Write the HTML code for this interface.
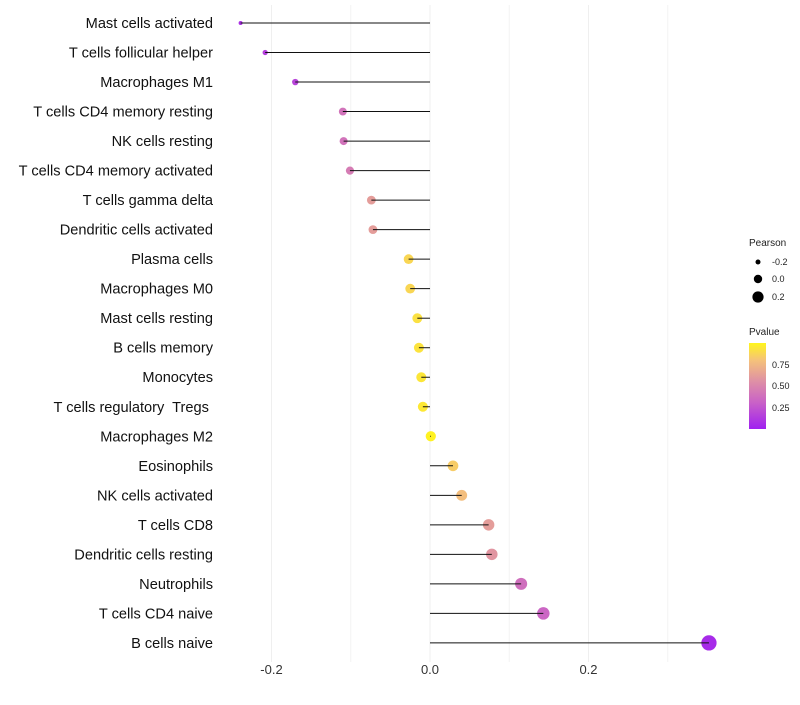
<!DOCTYPE html>
<html><head><meta charset="utf-8"><style>
body{margin:0;background:#fff;font-family:"Liberation Sans",sans-serif;}
text{white-space:pre;}
</style></head><body>
<svg id="chart" width="800" height="700" xmlns="http://www.w3.org/2000/svg">
<defs><linearGradient id="pg" x1="0" y1="1" x2="0" y2="0">
<stop offset="0" stop-color="#A020F0"/><stop offset="0.3" stop-color="#C860C8"/><stop offset="0.55" stop-color="#DE8FA6"/><stop offset="0.8" stop-color="#F5C27A"/><stop offset="1" stop-color="#FFF51C"/></linearGradient></defs>
<g id="grid"></g><g id="pts"></g><g id="marks"></g><g id="ylab"></g><g id="xlab"></g>
<g font-size="9" fill="#222">
<text x="749" y="246" font-size="10">Pearson</text>
<circle cx="758" cy="262" r="2.5" fill="#000"/>
<text x="772" y="265">-0.2</text>
<circle cx="758" cy="279" r="4.2" fill="#000"/>
<text x="772" y="282">0.0</text>
<circle cx="758" cy="297" r="5.6" fill="#000"/>
<text x="772" y="300">0.2</text>
<text x="749" y="335" font-size="10">Pvalue</text>
<rect x="749" y="343" width="17" height="86" fill="url(#pg)"/>
<text x="772" y="368">0.75</text>
<text x="772" y="389">0.50</text>
<text x="772" y="411">0.25</text>
</g>
</svg>
<script>
const categories=["Mast cells activated","T cells follicular helper","Macrophages M1","T cells CD4 memory resting","NK cells resting","T cells CD4 memory activated","T cells gamma delta","Dendritic cells activated","Plasma cells","Macrophages M0","Mast cells resting","B cells memory","Monocytes","T cells regulatory  Tregs ","Macrophages M2","Eosinophils","NK cells activated","T cells CD8","Dendritic cells resting","Neutrophils","T cells CD4 naive","B cells naive"];
const pearson=[-0.239,-0.208,-0.170,-0.110,-0.109,-0.101,-0.074,-0.072,-0.027,-0.025,-0.016,-0.014,-0.011,-0.009,0.001,0.029,0.040,0.074,0.078,0.115,0.143,0.352];
const pvalues=[0.08,0.15,0.17,0.40,0.40,0.45,0.62,0.62,0.88,0.88,0.92,0.93,0.94,0.95,0.99,0.84,0.78,0.62,0.58,0.38,0.33,0.05];
const xTicks=[-0.2,0.0,0.2];
const xTickLabels=["-0.2","0.0","0.2"];
const minorTicks=[-0.1,0.1,0.3];
const NS="http://www.w3.org/2000/svg";
const X=v=>430+v*792.5;
const Y=i=>23+i*29.52;
function el(t,a,p){const e=document.createElementNS(NS,t);for(const k in a)e.setAttribute(k,a[k]);document.getElementById(p).appendChild(e);return e;}
function lerp(a,b,t){return a+(b-a)*t;}
const stops=[[0,[160,32,240]],[0.3,[200,96,200]],[0.55,[222,143,166]],[0.8,[245,194,122]],[1,[255,245,28]]];
function col(p){for(let i=1;i<stops.length;i++){if(p<=stops[i][0]){const a=stops[i-1],b=stops[i];const t=(p-a[0])/(b[0]-a[0]);return `rgb(${a[1].map((c,j)=>Math.round(lerp(c,b[1][j],t))).join(',')})`;}}return 'rgb(255,245,28)';}
minorTicks.forEach(v=>{const l=el('line',{x1:X(v),x2:X(v),y1:5,y2:662,stroke:'#f4f4f4','stroke-width':1},'grid');
});
xTicks.forEach((v,i)=>{const l=el('line',{x1:X(v),x2:X(v),y1:5,y2:662,stroke:'#efefef','stroke-width':1},'grid');

const t=el('text',{x:X(v),y:674,'text-anchor':'middle','font-size':13,fill:'#333'},'xlab');t.textContent=xTickLabels[i];
});
categories.forEach((c,i)=>{const y=Y(i);
const r=Math.sqrt(Math.max(1.8,26+92*pearson[i]));
const ci=el('circle',{cx:X(pearson[i]),cy:y,r:r,fill:col(pvalues[i])},'pts');

const ln=el('line',{x1:X(0),x2:X(pearson[i]),y1:y,y2:y,stroke:'#111','stroke-width':1},'marks');

const t=el('text',{x:213,y:y+5,'text-anchor':'end','font-size':14.6,fill:'#111'},'ylab');t.textContent=c;
});
</script>
</body></html>
